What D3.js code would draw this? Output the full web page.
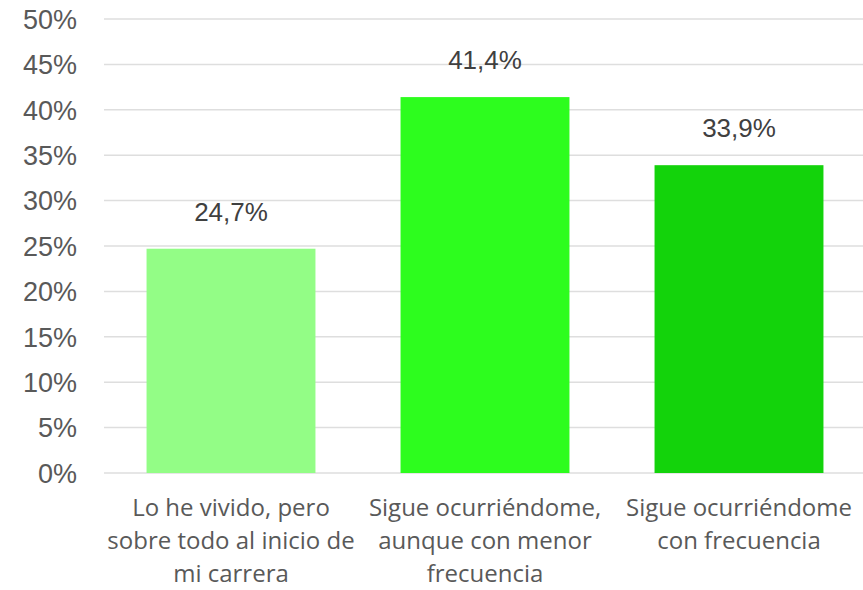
<!DOCTYPE html>
<html>
<head>
<meta charset="utf-8">
<script src="https://cdn.jsdelivr.net/npm/d3@7/dist/d3.min.js"></script>
<style>
html,body{margin:0;padding:0;background:#fff;}
svg{display:block;}
</style>
</head>
<body>
<svg id="chart" width="863" height="590"></svg>
<script>
const categories = [
  ["Lo he vivido, pero", "sobre todo al inicio de", "mi carrera"],
  ["Sigue ocurriéndome,", "aunque con menor", "frecuencia"],
  ["Sigue ocurriéndome", "con frecuencia"]
];
const categoryIds = ["c1", "c2", "c3"];
const values = [24.7, 41.4, 33.9];
const valueLabels = ["24,7%", "41,4%", "33,9%"];
const barColors = ["#93fd86", "#2dfd1e", "#13d30b"];
const tickValues = [0, 5, 10, 15, 20, 25, 30, 35, 40, 45, 50];
const tickLabels = ["0%", "5%", "10%", "15%", "20%", "25%", "30%", "35%", "40%", "45%", "50%"];

const svg = d3.select("#chart");
const plotLeft = 104, plotRight = 866, plotTop = 19, plotBottom = 473;

const y = d3.scaleLinear().domain([0, 50]).range([plotBottom, plotTop]);
const x = d3.scaleBand().domain(categoryIds).range([plotLeft, plotRight])
  .paddingInner(0.335).paddingOuter(0.1675);

// gridlines
svg.append("g").selectAll("line").data(tickValues).join("line")
  .attr("x1", plotLeft).attr("x2", 863)
  .attr("y1", d => y(d)).attr("y2", d => y(d))
  .attr("stroke", "#dedede").attr("stroke-width", 1.5);

// y tick labels
svg.append("g").selectAll("text").data(tickValues).join("text")
  .attr("x", 77).attr("y", d => y(d))
  .attr("dy", "0.36em")
  .attr("text-anchor", "end")
  .attr("font-family", "'Liberation Sans', Arial, sans-serif")
  .attr("font-size", 27)
  .attr("fill", "#595959")
  .text((d, i) => tickLabels[i]);

// bars
svg.append("g").selectAll("rect").data(values).join("rect")
  .attr("x", (d, i) => x(categoryIds[i]))
  .attr("width", x.bandwidth())
  .attr("y", d => y(d))
  .attr("height", d => y(0) - y(d))
  .attr("fill", (d, i) => barColors[i]);

// value labels
svg.append("g").selectAll("text").data(values).join("text")
  .attr("x", (d, i) => x(categoryIds[i]) + x.bandwidth() / 2)
  .attr("y", d => y(d) - 28)
  .attr("text-anchor", "middle")
  .attr("font-family", "'Liberation Sans', Arial, sans-serif")
  .attr("font-size", 26)
  .attr("fill", "#404040")
  .text((d, i) => valueLabels[i]);

// category labels
const cat = svg.append("g").selectAll("text").data(categories).join("text")
  .attr("x", (d, i) => x(categoryIds[i]) + x.bandwidth() / 2)
  .attr("y", 516)
  .attr("text-anchor", "middle")
  .attr("font-family", "'Open Sans', sans-serif")
  .attr("font-size", 24)
  .attr("fill", "#595959");
cat.selectAll("tspan").data(d => d).join("tspan")
  .attr("x", function() { return d3.select(this.parentNode).attr("x"); })
  .attr("dy", (d, i) => i === 0 ? 0 : 33)
  .text(d => d);
</script>
</body>
</html>
